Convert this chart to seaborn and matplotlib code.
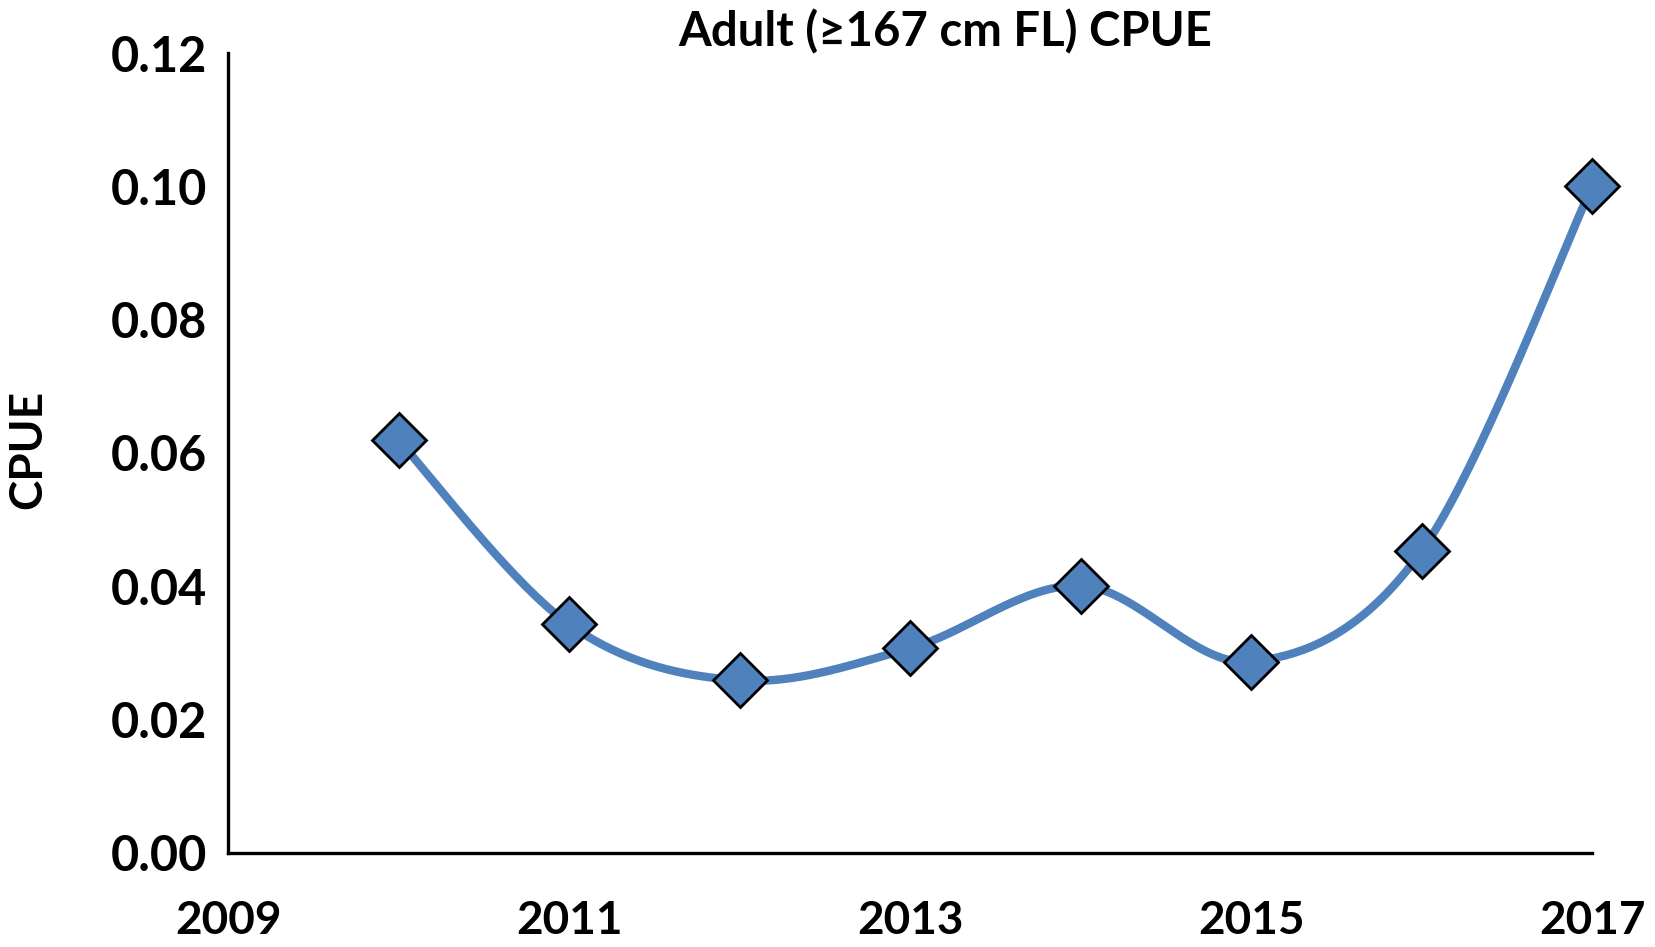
import numpy as np
import pandas as pd
import seaborn as sns
import matplotlib.pyplot as plt

years = [2010, 2011, 2012, 2013, 2014, 2015, 2016, 2017]
cpue = [0.0619, 0.0343, 0.0259, 0.0307, 0.0401, 0.0287, 0.0453, 0.1000]
x_ticks = [2009, 2011, 2013, 2015, 2017]
y_ticks = [0.00, 0.02, 0.04, 0.06, 0.08, 0.10, 0.12]

BLUE = "#4F81BD"


def excel_smooth(x, y, n=40):
    # Excel-style smoothed line: cubic Bezier, control points from neighbours / 6
    x = np.asarray(x, float)
    y = np.asarray(y, float)
    px = np.concatenate([[x[0]], x, [x[-1]]])
    py = np.concatenate([[y[0]], y, [y[-1]]])
    t = np.linspace(0, 1, n)
    xs, ys = [], []
    for i in range(1, len(px) - 2):
        p0 = np.array([px[i], py[i]])
        p3 = np.array([px[i + 1], py[i + 1]])
        c1 = p0 + (np.array([px[i + 1], py[i + 1]]) - np.array([px[i - 1], py[i - 1]])) / 6
        c2 = p3 - (np.array([px[i + 2], py[i + 2]]) - np.array([px[i], py[i]])) / 6
        b = ((1 - t) ** 3)[:, None] * p0 + (3 * (1 - t) ** 2 * t)[:, None] * c1 \
            + (3 * (1 - t) * t ** 2)[:, None] * c2 + (t ** 3)[:, None] * p3
        xs.append(b[:, 0])
        ys.append(b[:, 1])
    return np.concatenate(xs), np.concatenate(ys)


sns.set_theme(style="white")
plt.rcParams["font.family"] = ["Lato", "DejaVu Sans"]
plt.rcParams["font.weight"] = "bold"

df = pd.DataFrame({"year": years, "cpue": cpue})
sx, sy = excel_smooth(years, cpue)
curve = pd.DataFrame({"year": sx, "cpue": sy})

fig = plt.figure(figsize=(16.55, 9.47), dpi=100)
ax = fig.add_axes([0.1378, 0.0993, 0.8242, 0.8447])

sns.lineplot(data=curve, x="year", y="cpue", sort=False, color=BLUE,
             linewidth=6, ax=ax)
ax.plot(df["year"], df["cpue"], linestyle="none", marker="D", markersize=27,
        markerfacecolor=BLUE, markeredgecolor="black", markeredgewidth=2,
        zorder=5, clip_on=False)

ax.set_xlim(2009, 2017)
ax.set_ylim(0, 0.12)
ax.set_xticks(x_ticks)
ax.set_xticklabels([str(v) for v in x_ticks])
ax.set_yticks(y_ticks)
ax.set_yticklabels([f"{v:.2f}" for v in y_ticks])

for side in ["top", "right"]:
    ax.spines[side].set_visible(False)
for side in ["left", "bottom"]:
    ax.spines[side].set_color("black")
    ax.spines[side].set_linewidth(2.4)

ax.tick_params(axis="both", which="major", direction="out", length=10,
               width=2.4, color="black", labelcolor="black")
ax.tick_params(axis="x", pad=24, labelsize=33)
ax.tick_params(axis="y", pad=5, labelsize=35)
for lbl in ax.get_xticklabels() + ax.get_yticklabels():
    lbl.set_fontweight("bold")

ax.set_xlabel("")
ax.set_ylabel("CPUE", fontsize=33, fontweight="bold", color="black")
ax.yaxis.set_label_coords(-0.131, 0.505)

fig.text(0.571, 0.966, "Adult (≥167 cm FL) CPUE", ha="center", va="center",
         fontsize=34, fontweight="bold", color="black")

fig.savefig("out.png", dpi=100, facecolor="white")
